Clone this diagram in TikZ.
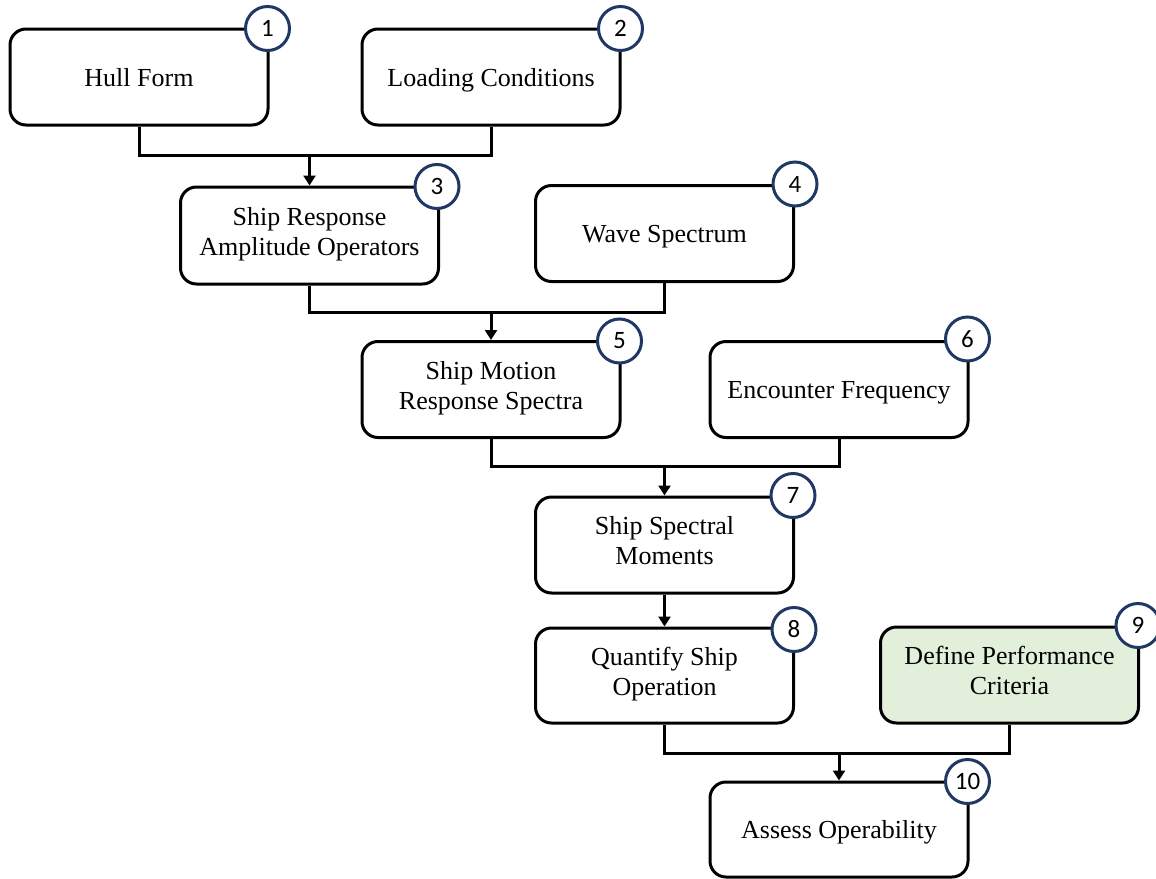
\documentclass[tikz,border=0pt]{standalone}
\usepackage{fontspec}
\setmainfont{Liberation Serif}
\newfontfamily\numfont{Carlito}
\usetikzlibrary{arrows.meta}
\definecolor{navy}{HTML}{1F3864}
\definecolor{paleGreen}{HTML}{E2EFDA}
\newcommand{\topstrut}{\rule{0pt}{27pt}}
\begin{document}
\begin{tikzpicture}[x=1pt,y=-1pt,
  stepbox/.style={draw=black, line width=3pt, rounded corners=16pt, fill=white,
    minimum width=258pt, minimum height=96pt, align=center, inner sep=0pt,
    font=\fontsize{26pt}{30pt}\selectfont,
    execute at begin node=\topstrut, execute at end node=\strut},
  badge/.style={circle, draw=navy, line width=3pt, fill=white, minimum size=44pt,
    inner sep=0pt, font=\numfont\fontsize{25pt}{25pt}\selectfont},
  link/.style={line width=3pt, line join=miter},
  flow/.style={link, -{Triangle[length=10pt,width=12pt]}}]
\useasboundingbox (0,0) rectangle (1156,878);

% process boxes
\node[stepbox] (b1) at (139,77) {Hull Form};
\node[stepbox] (b2) at (491,77) {Loading Conditions};
\node[stepbox, minimum height=97pt] (b3) at (309.5,235.5) {Ship Response\\Amplitude Operators};
\node[stepbox] (b4) at (664.5,233.5) {Wave Spectrum};
\node[stepbox] (b5) at (491,389.5) {Ship Motion\\Response Spectra};
\node[stepbox] (b6) at (839,389.5) {Encounter Frequency};
\node[stepbox] (b7) at (664.5,545) {Ship Spectral\\Moments};
\node[stepbox, minimum height=95pt] (b8) at (664.5,675.5) {Quantify Ship\\Operation};
\node[stepbox, fill=paleGreen] (b9) at (1009.5,675) {Define Performance\\Criteria};
\node[stepbox, minimum height=95pt] (b10) at (839,829.5) {Assess Operability};

% junction levels
\coordinate (j1) at (0,155);
\coordinate (j2) at (0,312);
\coordinate (j3) at (0,466);
\coordinate (j4) at (0,753);

% merging connectors
\draw[link] (b1.south) |- (b2.south |- j1) -- (b2.south);
\draw[flow] (b3.north |- j1) -- (b3.north);
\draw[link] (b3.south) |- (b4.south |- j2) -- (b4.south);
\draw[flow] (b5.north |- j2) -- (b5.north);
\draw[link] (b5.south) |- (b6.south |- j3) -- (b6.south);
\draw[flow] (b7.north |- j3) -- (b7.north);
\draw[flow] (b7.south) -- (b8.north);
\draw[link] (b8.south) |- (b9.south |- j4) -- (b9.south);
\draw[flow] (b10.north |- j4) -- (b10.north);

% step numbers
\node[badge] (n1) at ([xshift=-2pt,yshift=-1pt]b1.north east) {1};
\node[badge] (n2) at ([xshift=-1pt,yshift=-1pt]b2.north east) {2};
\node[badge] (n3) at ([xshift=-3pt,yshift=-1pt]b3.north east) {3};
\node[badge] (n4) at ([xshift=0pt,yshift=0pt]b4.north east) {4};
\node[badge] (n5) at ([xshift=-2pt,yshift=-1pt]b5.north east) {5};
\node[badge] (n6) at ([xshift=-2pt,yshift=1pt]b6.north east) {6};
\node[badge] (n7) at ([xshift=-2pt,yshift=0pt]b7.north east) {7};
\node[badge] (n8) at ([xshift=-1pt,yshift=-3pt]b8.north east) {8};
\node[badge] (n9) at ([xshift=-2pt,yshift=0pt]b9.north east) {9};
\node[badge] (n10) at ([xshift=-2pt,yshift=-1pt]b10.north east) {10};
\end{tikzpicture}
\end{document}
